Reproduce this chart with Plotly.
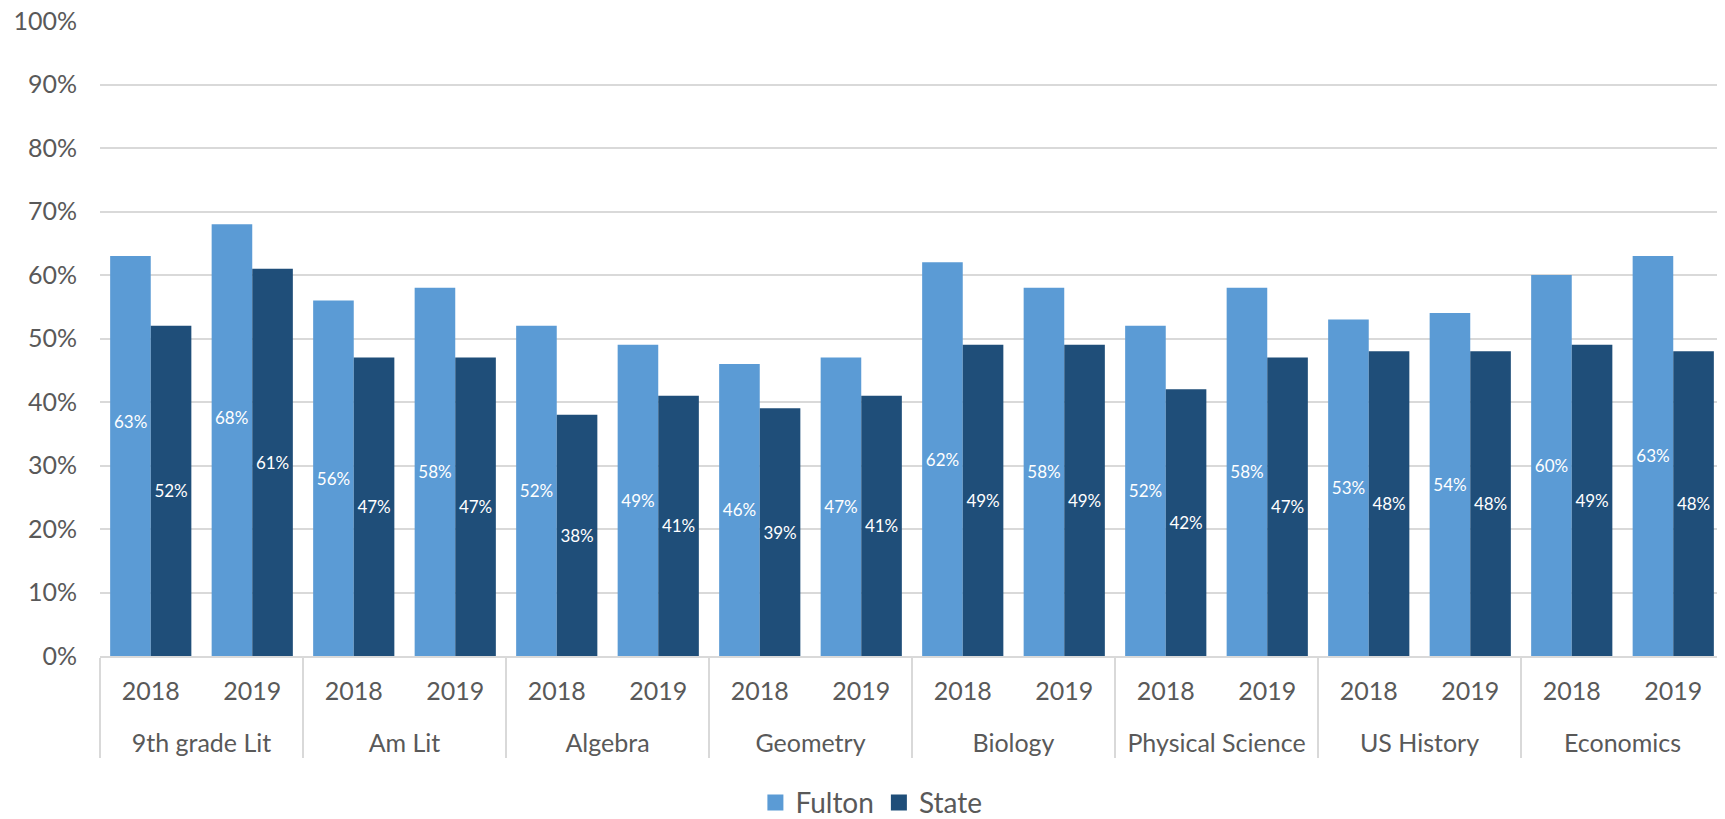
import plotly.graph_objects as go

subjects = ["9th grade Lit", "Am Lit", "Algebra", "Geometry", "Biology",
            "Physical Science", "US History", "Economics"]
years = ["2018", "2019"]

fulton = [63, 68, 56, 58, 52, 49, 46, 47, 62, 58, 52, 58, 53, 54, 60, 63]
state = [52, 61, 47, 47, 38, 41, 39, 41, 49, 49, 42, 47, 48, 48, 49, 48]

# two Fulton labels were dragged upward in the original chart (bar index -> label height)
fulton_label_moved = {0: 37, 1: 37.5}

# blank first line pushes the subject row further below the years
x_subj = [" <br>" + s for s in subjects for _ in years]
x_year = [y for _ in subjects for y in years]

FONT = "Lato, 'Open Sans', sans-serif"
GREY = "#595959"
series = [("Fulton", fulton, "#5B9BD5"), ("State", state, "#1F4E79")]

fig = go.Figure()
for name, vals, color in series:
    moved = fulton_label_moved if name == "Fulton" else {}
    fig.add_trace(go.Bar(
        x=[x_subj, x_year],
        y=vals,
        name=name,
        legendgroup=name,
        showlegend=False,
        marker=dict(color=color, line=dict(width=0)),
        text=["" if i in moved else f"{v}%" for i, v in enumerate(vals)],
        textposition="inside",
        insidetextanchor="middle",
        textangle=0,
        textfont=dict(color="white", size=17, family=FONT),
    ))

# the moved labels, placed on the left bar of their category
for i, y in fulton_label_moved.items():
    fig.add_annotation(
        x=i - 0.2, y=y, xref="x", yref="y",
        text=f"{fulton[i]}%", showarrow=False,
        font=dict(color="white", size=17, family=FONT),
    )

# legend entries with bigger square swatches
for name, vals, color in series:
    fig.add_trace(go.Scatter(
        x=[[x_subj[0]], [x_year[0]]],
        y=[None],
        mode="markers",
        name=name,
        legendgroup=name,
        marker=dict(symbol="square", size=18, color=color),
        hoverinfo="skip",
    ))

# page body adds an 8px offset, so the figure is 8px smaller
fig.update_layout(
    barmode="group",
    bargap=0.2,
    bargroupgap=0,
    width=1717,
    height=811,
    margin=dict(l=92, r=1, t=13, b=163, autoexpand=False),
    paper_bgcolor="white",
    plot_bgcolor="white",
    font=dict(family=FONT, color=GREY, size=24),
    legend=dict(
        orientation="h",
        x=0.475,
        xanchor="center",
        y=-0.231,
        yanchor="middle",
        font=dict(size=28, color=GREY),
        itemwidth=30,
    ),
)

fig.update_yaxes(
    range=[0, 100],
    tick0=0,
    dtick=10,
    ticksuffix="%",
    showgrid=True,
    gridcolor="#D9D9D9",
    gridwidth=1.5,
    zeroline=False,
    showline=False,
    ticks="",
    ticklabelstandoff=22,
    ticklabeloverflow="allow",
    tickfont=dict(size=25, color=GREY),
    automargin=False,
)

fig.update_xaxes(
    range=[-0.5, 15.5],
    showline=True,
    linecolor="#D9D9D9",
    linewidth=1.5,
    showdividers=True,
    dividercolor="#D9D9D9",
    dividerwidth=1.5,
    ticks="",
    ticklabelstandoff=12,
    tickfont=dict(size=25, color=GREY),
    automargin=False,
)

fig.write_html("out.html")
